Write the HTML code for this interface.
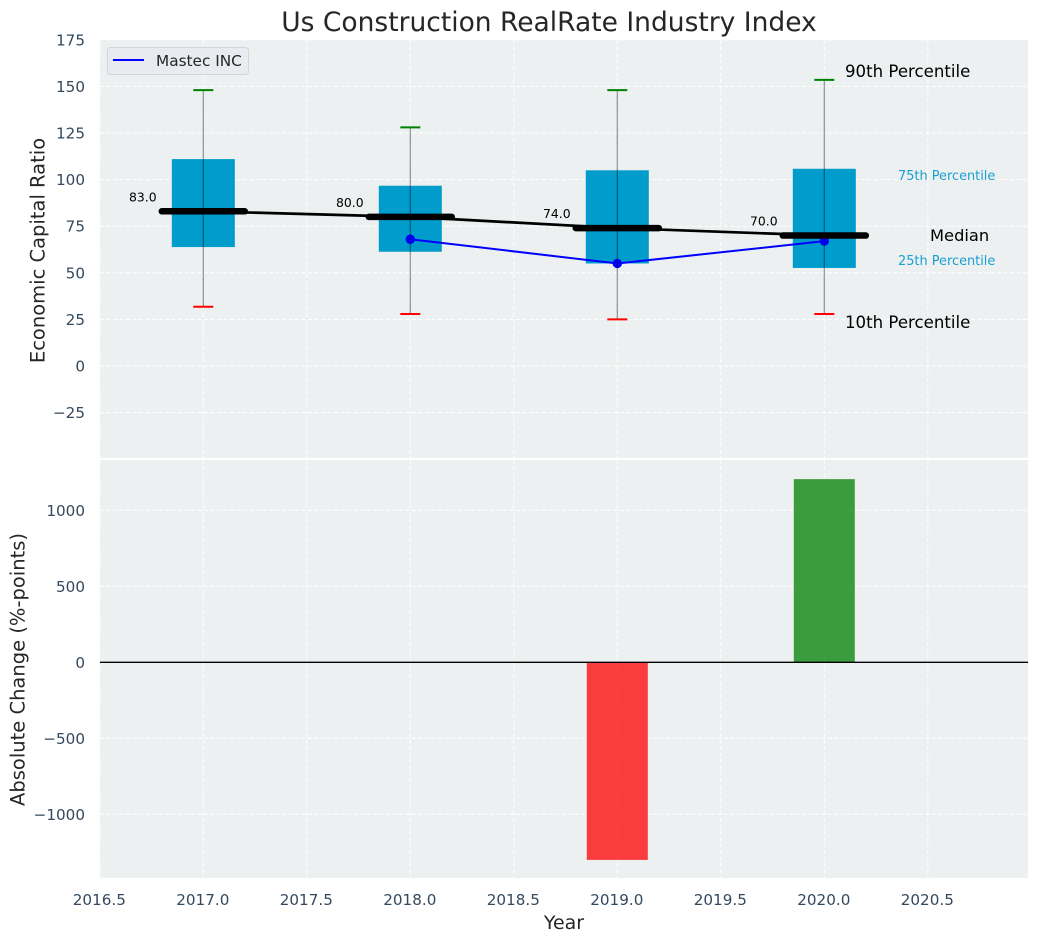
<!DOCTYPE html>
<html lang="en">
<head>
<meta charset="utf-8">
<title>Us Construction RealRate Industry Index</title>
<style>
html,body{margin:0;padding:0;background:#fff;}
svg{display:block;font-family:"DejaVu Sans","Liberation Sans",sans-serif;}
</style>
</head>
<body>
<svg id="chart" xmlns="http://www.w3.org/2000/svg" width="1039" height="942" viewBox="0 0 1039 942">
  <rect x="0" y="0" width="1039" height="942" fill="#ffffff"/>
  <rect x="100" y="40" width="928" height="418" fill="#ecf0f1"/>
  <rect x="100" y="460" width="928" height="418" fill="#ecf0f1"/>
  <g id="grid"></g>
  <g id="ticks"></g>
  <g id="bars"></g>
  <g id="boxes"></g>
  <text x="549" y="31" font-size="26.500" fill="#262626" text-anchor="middle">Us Construction RealRate Industry Index</text>
  <text transform="translate(44.500 250.500) rotate(-90)" font-size="19.500" fill="#262626" text-anchor="middle">Economic Capital Ratio</text>
  <text transform="translate(24.500 669.500) rotate(-90)" font-size="19.500" fill="#262626" text-anchor="middle">Absolute Change (%-points)</text>
  <text x="564" y="929" font-size="19" fill="#262626" text-anchor="middle">Year</text>
  <g>
    <rect x="107.500" y="47.500" width="141" height="27" rx="3" fill="#e9ebf0" stroke="#d3d6d9" stroke-width="1"/>
    <line x1="113" y1="60" x2="144" y2="60" stroke="#0000ff" stroke-width="2"/>
    <text x="156" y="66" font-size="15.300" fill="#262626">Mastec INC</text>
  </g>
  <g>
    <text x="845" y="77" font-size="16.600" fill="#000000">90th Percentile</text>
    <text x="898" y="180" font-size="12.900" fill="#1a9fd0">75th Percentile</text>
    <text x="930" y="241" font-size="16.300" fill="#000000">Median</text>
    <text x="898" y="265" font-size="12.900" fill="#1a9fd0">25th Percentile</text>
    <text x="845" y="328" font-size="16.600" fill="#000000">10th Percentile</text>
  </g>
</svg>
<script>
const years = [2017, 2018, 2019, 2020];
const p90 = [148, 128, 148, 153.5];
const p75 = [111, 96.7, 105, 105.8];
const medians = [83, 80, 74, 70];
const p25 = [63.8, 61.3, 55, 52.6];
const p10 = [31.8, 27.9, 25, 27.9];
const companyYears = [2018, 2019, 2020];
const companyValues = [68, 55, 67];
const changeYears = [2019, 2020];
const changeValues = [-1300, 1205];
const xTickLabels = ['2016.5', '2017.0', '2017.5', '2018.0', '2018.5', '2019.0', '2019.5', '2020.0', '2020.5'];
const topYTicks = [175, 150, 125, 100, 75, 50, 25, 0, -25];
const bottomYTicks = [1000, 500, 0, -500, -1000];

const NS = 'http://www.w3.org/2000/svg';
const x = v => 203.3 + (v - 2017) * 207;
const yTop = v => 366 - v * 1.864;
const yBottom = v => 662.3 - v * 0.152;
const minus = v => String(v).replace('-', '\u2212');

function make(tag, parent, attrs, text) {
  const el = document.createElementNS(NS, tag);
  for (const k in attrs) el.setAttribute(k, attrs[k]);
  if (text !== undefined) el.textContent = text;
  parent.appendChild(el);
  return el;
}

const gridG = document.getElementById('grid');
const ticksG = document.getElementById('ticks');
const barsG = document.getElementById('bars');
const boxesG = document.getElementById('boxes');
const dash = '4 2.5';
const tickColor = '#34495e';
const tickSize = 15.2;

xTickLabels.forEach(label => {
  const px = x(parseFloat(label));
  const a = make('line', gridG, {x1: px, x2: px, y1: 40, y2: 458, stroke: '#fff', 'stroke-width': 1, 'stroke-dasharray': dash});
  
  
  const b = make('line', gridG, {x1: px, x2: px, y1: 460, y2: 878, stroke: '#fff', 'stroke-width': 1, 'stroke-dasharray': dash});
  
  
  const t = make('text', ticksG, {x: px - 0.5, y: 905, 'font-size': tickSize, fill: tickColor, 'text-anchor': 'middle'}, label);
  
  
});

topYTicks.forEach(v => {
  const py = yTop(v);
  const g = make('line', gridG, {x1: 100, x2: 1028, y1: py, y2: py, stroke: '#fff', 'stroke-width': 1, 'stroke-dasharray': dash});
  
  
  const t = make('text', ticksG, {x: 85, y: py + 5.5, 'font-size': tickSize, fill: tickColor, 'text-anchor': 'end'}, minus(v));
  
  
});

bottomYTicks.forEach(v => {
  const py = yBottom(v);
  const g = make('line', gridG, {x1: 100, x2: 1028, y1: py, y2: py, stroke: '#fff', 'stroke-width': 1, 'stroke-dasharray': dash});
  
  
  const t = make('text', ticksG, {x: 85, y: py + 5.5, 'font-size': tickSize, fill: tickColor, 'text-anchor': 'end'}, minus(v));
  
  
});

changeYears.forEach((yr, i) => {
  const v = changeValues[i];
  const y0 = yBottom(0), y1 = yBottom(v);
  const r = make('rect', barsG, {
    x: x(yr) - 30.5, width: 61,
    y: Math.min(y0, y1), height: Math.abs(y1 - y0),
    fill: v < 0 ? '#ff0000' : '#008000', 'fill-opacity': 0.75
  });
  
  
});
const zero = make('line', barsG, {x1: 100, x2: 1028, y1: yBottom(0), y2: yBottom(0), stroke: '#000', 'stroke-width': 1.4});



years.forEach((yr, i) => {
  const box = make('rect', boxesG, {
    x: x(yr) - 31.5, width: 63,
    y: yTop(p75[i]), height: yTop(p25[i]) - yTop(p75[i]),
    fill: '#009ccc'
  });
  
  
});

const medianPath = make('polyline', boxesG, {
  points: years.map((yr, i) => x(yr) + ',' + yTop(medians[i])).join(' '),
  fill: 'none', stroke: '#000', 'stroke-width': 2.7
});



const companyPath = make('polyline', boxesG, {
  points: companyYears.map((yr, i) => x(yr) + ',' + yTop(companyValues[i])).join(' '),
  fill: 'none', stroke: '#0000ff', 'stroke-width': 2
});



companyYears.forEach((yr, i) => {
  const c = make('circle', boxesG, {cx: x(yr), cy: yTop(companyValues[i]), r: 4.7, fill: '#0000ff'});
  
  
});

years.forEach((yr, i) => {
  const px = x(yr);
  const m = make('line', boxesG, {x1: px - 41.500, x2: px + 41.500, y1: yTop(medians[i]), y2: yTop(medians[i]), stroke: '#000', 'stroke-width': 6.500, 'stroke-linecap': 'round'});
  
  
  const w = make('line', boxesG, {x1: px, x2: px, y1: yTop(p90[i]), y2: yTop(p10[i]), stroke: '#000', 'stroke-opacity': 0.42, 'stroke-width': 1.2});
  
  
  const hi = make('line', boxesG, {x1: px - 10, x2: px + 10, y1: yTop(p90[i]), y2: yTop(p90[i]), stroke: '#008000', 'stroke-width': 2});
  
  
  const lo = make('line', boxesG, {x1: px - 10, x2: px + 10, y1: yTop(p10[i]), y2: yTop(p10[i]), stroke: '#ff0000', 'stroke-width': 2});
  
  
  const lab = make('text', boxesG, {x: px - 60.5, y: yTop(medians[i]) - 10, 'font-size': 12.4, fill: '#000', 'text-anchor': 'middle'}, medians[i].toFixed(1));
  
  
});
</script>
</body>
</html>
